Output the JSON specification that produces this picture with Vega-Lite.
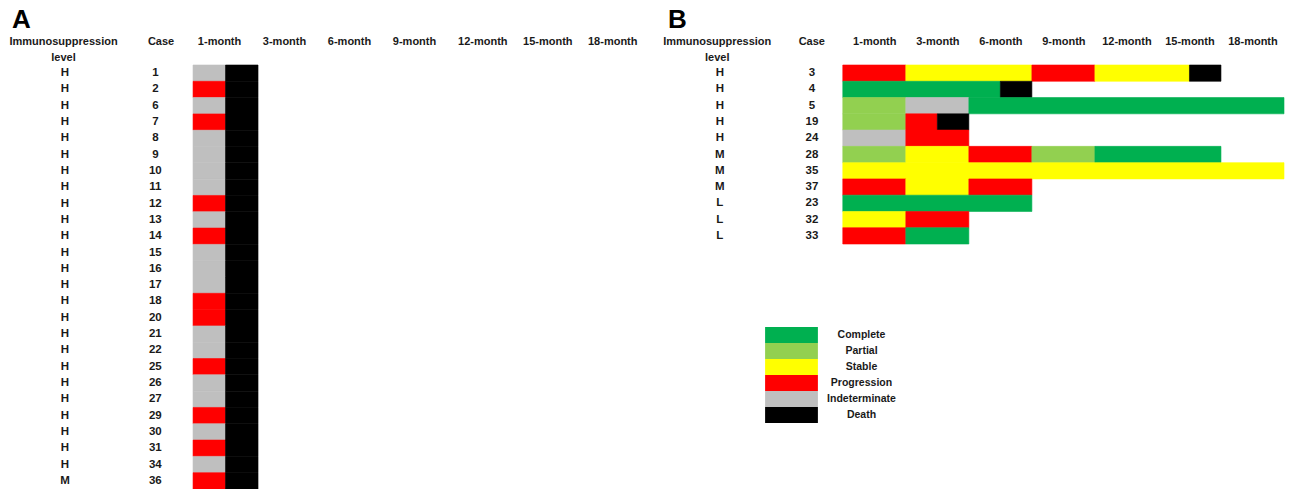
{
  "$schema": "https://vega.github.io/schema/vega-lite/v6.json",
  "padding": {"top": 7, "left": 0, "right": 0, "bottom": 0},
  "background": "white",
  "spacing": 12,
  "config": {"view": {"stroke": null}, "font": "Liberation Sans", "concat": {"spacing": 12}},
  "resolve": {"scale": {"color": "independent", "stroke": "independent"}, "legend": {"color": "independent"}},
  "datasets": {
    "a": [
      {"case": "1", "level": "H", "from": 0, "to": 0.5, "status": "Indeterminate"},
      {"case": "1", "level": "H", "from": 0.5, "to": 1, "status": "Death"},
      {"case": "2", "level": "H", "from": 0, "to": 0.5, "status": "Progression"},
      {"case": "2", "level": "H", "from": 0.5, "to": 1, "status": "Death"},
      {"case": "6", "level": "H", "from": 0, "to": 0.5, "status": "Indeterminate"},
      {"case": "6", "level": "H", "from": 0.5, "to": 1, "status": "Death"},
      {"case": "7", "level": "H", "from": 0, "to": 0.5, "status": "Progression"},
      {"case": "7", "level": "H", "from": 0.5, "to": 1, "status": "Death"},
      {"case": "8", "level": "H", "from": 0, "to": 0.5, "status": "Indeterminate"},
      {"case": "8", "level": "H", "from": 0.5, "to": 1, "status": "Death"},
      {"case": "9", "level": "H", "from": 0, "to": 0.5, "status": "Indeterminate"},
      {"case": "9", "level": "H", "from": 0.5, "to": 1, "status": "Death"},
      {"case": "10", "level": "H", "from": 0, "to": 0.5, "status": "Indeterminate"},
      {"case": "10", "level": "H", "from": 0.5, "to": 1, "status": "Death"},
      {"case": "11", "level": "H", "from": 0, "to": 0.5, "status": "Indeterminate"},
      {"case": "11", "level": "H", "from": 0.5, "to": 1, "status": "Death"},
      {"case": "12", "level": "H", "from": 0, "to": 0.5, "status": "Progression"},
      {"case": "12", "level": "H", "from": 0.5, "to": 1, "status": "Death"},
      {"case": "13", "level": "H", "from": 0, "to": 0.5, "status": "Indeterminate"},
      {"case": "13", "level": "H", "from": 0.5, "to": 1, "status": "Death"},
      {"case": "14", "level": "H", "from": 0, "to": 0.5, "status": "Progression"},
      {"case": "14", "level": "H", "from": 0.5, "to": 1, "status": "Death"},
      {"case": "15", "level": "H", "from": 0, "to": 0.5, "status": "Indeterminate"},
      {"case": "15", "level": "H", "from": 0.5, "to": 1, "status": "Death"},
      {"case": "16", "level": "H", "from": 0, "to": 0.5, "status": "Indeterminate"},
      {"case": "16", "level": "H", "from": 0.5, "to": 1, "status": "Death"},
      {"case": "17", "level": "H", "from": 0, "to": 0.5, "status": "Indeterminate"},
      {"case": "17", "level": "H", "from": 0.5, "to": 1, "status": "Death"},
      {"case": "18", "level": "H", "from": 0, "to": 0.5, "status": "Progression"},
      {"case": "18", "level": "H", "from": 0.5, "to": 1, "status": "Death"},
      {"case": "20", "level": "H", "from": 0, "to": 0.5, "status": "Progression"},
      {"case": "20", "level": "H", "from": 0.5, "to": 1, "status": "Death"},
      {"case": "21", "level": "H", "from": 0, "to": 0.5, "status": "Indeterminate"},
      {"case": "21", "level": "H", "from": 0.5, "to": 1, "status": "Death"},
      {"case": "22", "level": "H", "from": 0, "to": 0.5, "status": "Indeterminate"},
      {"case": "22", "level": "H", "from": 0.5, "to": 1, "status": "Death"},
      {"case": "25", "level": "H", "from": 0, "to": 0.5, "status": "Progression"},
      {"case": "25", "level": "H", "from": 0.5, "to": 1, "status": "Death"},
      {"case": "26", "level": "H", "from": 0, "to": 0.5, "status": "Indeterminate"},
      {"case": "26", "level": "H", "from": 0.5, "to": 1, "status": "Death"},
      {"case": "27", "level": "H", "from": 0, "to": 0.5, "status": "Indeterminate"},
      {"case": "27", "level": "H", "from": 0.5, "to": 1, "status": "Death"},
      {"case": "29", "level": "H", "from": 0, "to": 0.5, "status": "Progression"},
      {"case": "29", "level": "H", "from": 0.5, "to": 1, "status": "Death"},
      {"case": "30", "level": "H", "from": 0, "to": 0.5, "status": "Indeterminate"},
      {"case": "30", "level": "H", "from": 0.5, "to": 1, "status": "Death"},
      {"case": "31", "level": "H", "from": 0, "to": 0.5, "status": "Progression"},
      {"case": "31", "level": "H", "from": 0.5, "to": 1, "status": "Death"},
      {"case": "34", "level": "H", "from": 0, "to": 0.5, "status": "Indeterminate"},
      {"case": "34", "level": "H", "from": 0.5, "to": 1, "status": "Death"},
      {"case": "36", "level": "M", "from": 0, "to": 0.5, "status": "Progression"},
      {"case": "36", "level": "M", "from": 0.5, "to": 1, "status": "Death"}
    ],
    "b": [
      {"case": "3", "level": "H", "from": 0, "to": 1, "status": "Progression"},
      {"case": "3", "level": "H", "from": 1, "to": 3, "status": "Stable"},
      {"case": "3", "level": "H", "from": 3, "to": 4, "status": "Progression"},
      {"case": "3", "level": "H", "from": 4, "to": 5.5, "status": "Stable"},
      {"case": "3", "level": "H", "from": 5.5, "to": 6, "status": "Death"},
      {"case": "4", "level": "H", "from": 0, "to": 2.5, "status": "Complete"},
      {"case": "4", "level": "H", "from": 2.5, "to": 3, "status": "Death"},
      {"case": "5", "level": "H", "from": 0, "to": 1, "status": "Partial"},
      {"case": "5", "level": "H", "from": 1, "to": 2, "status": "Indeterminate"},
      {"case": "5", "level": "H", "from": 2, "to": 7, "status": "Complete"},
      {"case": "19", "level": "H", "from": 0, "to": 1, "status": "Partial"},
      {"case": "19", "level": "H", "from": 1, "to": 1.5, "status": "Progression"},
      {"case": "19", "level": "H", "from": 1.5, "to": 2, "status": "Death"},
      {"case": "24", "level": "H", "from": 0, "to": 1, "status": "Indeterminate"},
      {"case": "24", "level": "H", "from": 1, "to": 2, "status": "Progression"},
      {"case": "28", "level": "M", "from": 0, "to": 1, "status": "Partial"},
      {"case": "28", "level": "M", "from": 1, "to": 2, "status": "Stable"},
      {"case": "28", "level": "M", "from": 2, "to": 3, "status": "Progression"},
      {"case": "28", "level": "M", "from": 3, "to": 4, "status": "Partial"},
      {"case": "28", "level": "M", "from": 4, "to": 6, "status": "Complete"},
      {"case": "35", "level": "M", "from": 0, "to": 7, "status": "Stable"},
      {"case": "37", "level": "M", "from": 0, "to": 1, "status": "Progression"},
      {"case": "37", "level": "M", "from": 1, "to": 2, "status": "Stable"},
      {"case": "37", "level": "M", "from": 2, "to": 3, "status": "Progression"},
      {"case": "23", "level": "L", "from": 0, "to": 3, "status": "Complete"},
      {"case": "32", "level": "L", "from": 0, "to": 1, "status": "Stable"},
      {"case": "32", "level": "L", "from": 1, "to": 2, "status": "Progression"},
      {"case": "33", "level": "L", "from": 0, "to": 1, "status": "Progression"},
      {"case": "33", "level": "L", "from": 1, "to": 2, "status": "Complete"}
    ]
  },
  "hconcat": [
    {
      "width": 648,
      "height": 424,
      "title": {"text": "A", "anchor": "start", "font": "Liberation Sans", "fontSize": 26, "fontWeight": "bold", "color": "#000", "dx": 12, "offset": 2},
      "data": {"name": "a"},
      "layer": [
        {
          "mark": {"type": "rect", "strokeWidth": 0.6},
          "encoding": {
            "x": {"field": "from", "type": "quantitative", "scale": {"domain": [-2.97, 7], "nice": false, "zero": false},
              "axis": {"orient": "top", "values": [-2, -0.5, 0.4, 1.4, 2.4, 3.4, 4.45, 5.45, 6.45], "labelExpr": "datum.value < -1 ? ['Immunosuppression', 'level'] : datum.value < 0 ? 'Case' : ['1','3','6','9','12','15','18'][floor(datum.value)] + '-month'", "domain": false, "ticks": false, "grid": false, "labelBaseline": "top", "labelPadding": 30, "labelLineHeight": 16, "labelFontSize": 11, "labelFontWeight": "bold", "labelFont": "Liberation Sans", "labelColor": "#1a1a1a", "labelOverlap": false, "labelFlush": false, "labelBound": false, "title": null}},
            "x2": {"field": "to"},
            "y": {"field": "case", "type": "ordinal", "sort": null, "scale": {"paddingInner": 0, "paddingOuter": 0}, "axis": null},
            "color": {"field": "status", "type": "nominal", "scale": {"domain": ["Complete", "Partial", "Stable", "Progression", "Indeterminate", "Death"], "range": ["#00B050", "#92D050", "#FFFF00", "#FF0000", "#BFBFBF", "#000000"]}, "legend": null},
            "stroke": {"field": "status", "type": "nominal", "scale": {"domain": ["Complete", "Partial", "Stable", "Progression", "Indeterminate", "Death"], "range": ["#00B050", "#92D050", "#FFFF00", "#FF0000", "#BFBFBF", "#000000"]}, "legend": null}
          }
        },
        {
          "transform": [{"filter": "datum.from == 0"}],
          "mark": {"type": "text", "fontWeight": "bold", "fontSize": 11.5, "font": "Liberation Sans", "color": "#1a1a1a"},
          "encoding": {
            "x": {"datum": -1.97},
            "y": {"field": "case", "type": "ordinal", "sort": null},
            "text": {"field": "level"}
          }
        },
        {
          "transform": [{"filter": "datum.from == 0"}],
          "mark": {"type": "text", "fontWeight": "bold", "fontSize": 11.5, "font": "Liberation Sans", "color": "#1a1a1a"},
          "encoding": {
            "x": {"datum": -0.58},
            "y": {"field": "case", "type": "ordinal", "sort": null},
            "text": {"field": "case"}
          }
        }
      ]
    },
    {
      "width": 624,
      "height": 179,
      "title": {"text": "B", "anchor": "start", "font": "Liberation Sans", "fontSize": 26, "fontWeight": "bold", "color": "#000", "dx": 8, "offset": 2},
      "data": {"name": "b"},
      "layer": [
        {
          "mark": {"type": "rect", "strokeWidth": 0.6},
          "encoding": {
            "x": {"field": "from", "type": "quantitative", "scale": {"domain": [-2.9, 7], "nice": false, "zero": false},
              "axis": {"orient": "top", "values": [-2, -0.5, 0.5, 1.5, 2.5, 3.5, 4.5, 5.5, 6.5], "labelExpr": "datum.value < -1 ? ['Immunosuppression', 'level'] : datum.value < 0 ? 'Case' : ['1','3','6','9','12','15','18'][floor(datum.value)] + '-month'", "domain": false, "ticks": false, "grid": false, "labelBaseline": "top", "labelPadding": 30, "labelLineHeight": 16, "labelFontSize": 11, "labelFontWeight": "bold", "labelFont": "Liberation Sans", "labelColor": "#1a1a1a", "labelOverlap": false, "labelFlush": false, "labelBound": false, "title": null}},
            "x2": {"field": "to"},
            "y": {"field": "case", "type": "ordinal", "sort": null, "scale": {"paddingInner": 0, "paddingOuter": 0}, "axis": null},
            "color": {"field": "status", "type": "nominal", "scale": {"domain": ["Complete", "Partial", "Stable", "Progression", "Indeterminate", "Death"], "range": ["#00B050", "#92D050", "#FFFF00", "#FF0000", "#BFBFBF", "#000000"]},
              "legend": {"orient": "none", "legendX": 123.5, "legendY": 262, "title": null, "padding": 0, "symbolType": "M-3.3,-1H3.3V1H-3.3Z", "symbolSize": 256, "symbolStrokeWidth": 0, "symbolOpacity": 1, "rowPadding": 0, "labelOffset": 62, "labelAlign": "center", "labelFont": "Liberation Sans", "labelFontWeight": "bold", "labelFontSize": 10.5, "labelColor": "#1a1a1a"}},
            "stroke": {"field": "status", "type": "nominal", "scale": {"domain": ["Complete", "Partial", "Stable", "Progression", "Indeterminate", "Death"], "range": ["#00B050", "#92D050", "#FFFF00", "#FF0000", "#BFBFBF", "#000000"]}, "legend": null}
          }
        },
        {
          "transform": [{"filter": "datum.from == 0"}],
          "mark": {"type": "text", "fontWeight": "bold", "fontSize": 11.5, "font": "Liberation Sans", "color": "#1a1a1a"},
          "encoding": {
            "x": {"datum": -1.95},
            "y": {"field": "case", "type": "ordinal", "sort": null},
            "text": {"field": "level"}
          }
        },
        {
          "transform": [{"filter": "datum.from == 0"}],
          "mark": {"type": "text", "fontWeight": "bold", "fontSize": 11.5, "font": "Liberation Sans", "color": "#1a1a1a"},
          "encoding": {
            "x": {"datum": -0.49},
            "y": {"field": "case", "type": "ordinal", "sort": null},
            "text": {"field": "case"}
          }
        }
      ]
    }
  ]
}
